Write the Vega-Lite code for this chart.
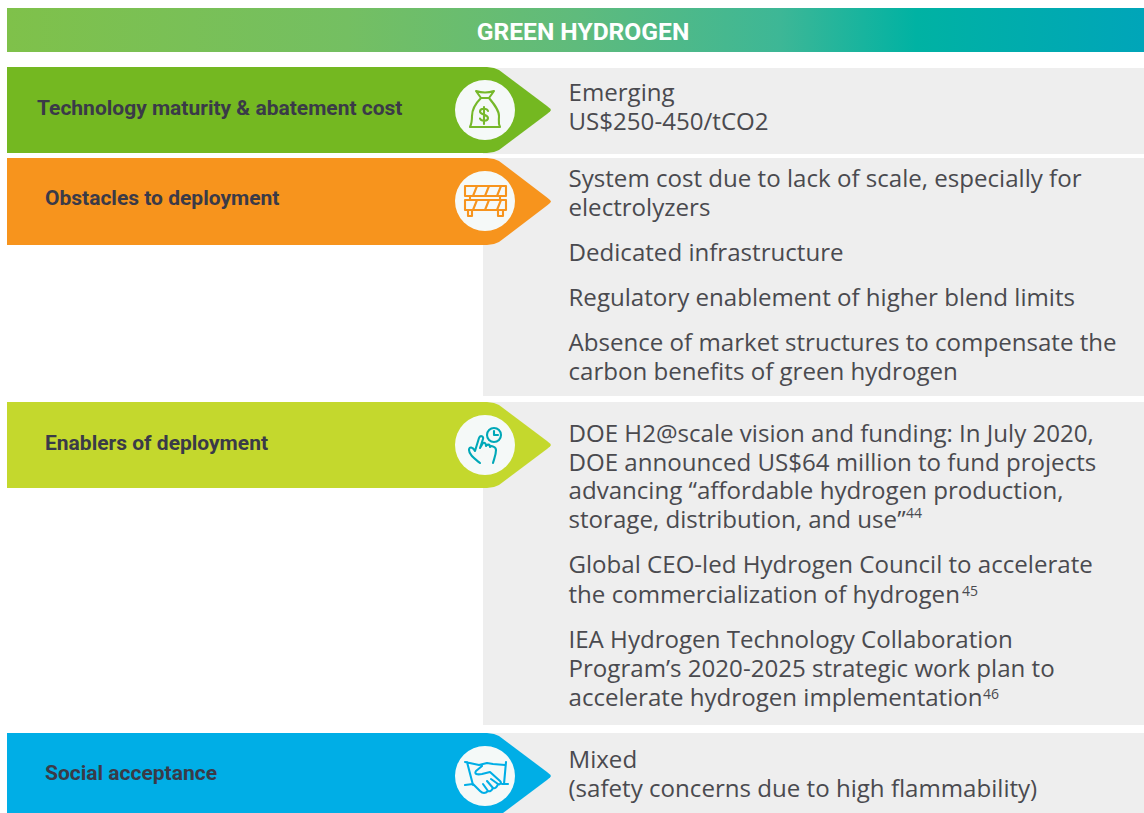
{"$schema":"https://vega.github.io/schema/vega-lite/v6.json","width":1144,"height":813,"padding":0,"autosize":{"type":"fit","contains":"padding"},"background":"white","config":{"view":{"stroke":null}},
"datasets":{
"header":[{"name":"GREEN HYDROGEN","x0":7,"x1":1144,"y0":8,"y1":52,"xm":583,"ym":39.5}],
"panels":[{"section":"Technology maturity & abatement cost","x0":483,"x1":1144,"y0":68,"y1":154},{"section":"Obstacles to deployment","x0":483,"x1":1144,"y0":158,"y1":396},{"section":"Enablers of deployment","x0":483,"x1":1144,"y0":402,"y1":725},{"section":"Social acceptance","x0":483,"x1":1144,"y0":733,"y1":813}],
"arrows":[
{"section":"Technology maturity & abatement cost","x":7,"top":67,"bottom":153},{"section":"Technology maturity & abatement cost","x":487,"top":67,"bottom":153},{"section":"Technology maturity & abatement cost","x":494,"top":68,"bottom":152},{"section":"Technology maturity & abatement cost","x":499,"top":70,"bottom":150},{"section":"Technology maturity & abatement cost","x":503,"top":73,"bottom":147},{"section":"Technology maturity & abatement cost","x":547,"top":106,"bottom":114},{"section":"Technology maturity & abatement cost","x":550,"top":108.5,"bottom":111.5},{"section":"Technology maturity & abatement cost","x":551,"top":110,"bottom":110},
{"section":"Obstacles to deployment","x":7,"top":158,"bottom":245},{"section":"Obstacles to deployment","x":487,"top":158,"bottom":245},{"section":"Obstacles to deployment","x":494,"top":159,"bottom":244},{"section":"Obstacles to deployment","x":499,"top":161,"bottom":242},{"section":"Obstacles to deployment","x":503,"top":164,"bottom":239},{"section":"Obstacles to deployment","x":547,"top":197.5,"bottom":205.5},{"section":"Obstacles to deployment","x":550,"top":200,"bottom":203},{"section":"Obstacles to deployment","x":551,"top":201.5,"bottom":201.5},
{"section":"Enablers of deployment","x":7,"top":402,"bottom":488},{"section":"Enablers of deployment","x":487,"top":402,"bottom":488},{"section":"Enablers of deployment","x":494,"top":403,"bottom":487},{"section":"Enablers of deployment","x":499,"top":405,"bottom":485},{"section":"Enablers of deployment","x":503,"top":408,"bottom":482},{"section":"Enablers of deployment","x":547,"top":441,"bottom":449},{"section":"Enablers of deployment","x":550,"top":443.5,"bottom":446.5},{"section":"Enablers of deployment","x":551,"top":445,"bottom":445},
{"section":"Social acceptance","x":7,"top":733,"bottom":819},{"section":"Social acceptance","x":487,"top":733,"bottom":819},{"section":"Social acceptance","x":494,"top":734,"bottom":818},{"section":"Social acceptance","x":499,"top":736,"bottom":816},{"section":"Social acceptance","x":503,"top":739,"bottom":813},{"section":"Social acceptance","x":547,"top":772,"bottom":780},{"section":"Social acceptance","x":550,"top":774.5,"bottom":777.5},{"section":"Social acceptance","x":551,"top":776,"bottom":776}],
"badges":[{"section":"Technology maturity & abatement cost","icon":"money","x":485,"y":110},{"section":"Obstacles to deployment","icon":"barrier","x":485,"y":201},{"section":"Enablers of deployment","icon":"hand","x":485,"y":445},{"section":"Social acceptance","icon":"shake","x":485,"y":776}],
"titles":[{"text":"Technology maturity & abatement cost","x":37,"y":109},{"text":"Obstacles to deployment","x":45,"y":199},{"text":"Enablers of deployment","x":45,"y":444},{"text":"Social acceptance","x":45,"y":774}],
"lines":[{"text":"Emerging","x":568.5,"y":101},{"text":"US$250-450/tCO2","x":568.5,"y":130},{"text":"System cost due to lack of scale, especially for","x":568.5,"y":186.5},{"text":"electrolyzers","x":568.5,"y":215.5},{"text":"Dedicated infrastructure","x":568.5,"y":261},{"text":"Regulatory enablement of higher blend limits","x":568.5,"y":306},{"text":"Absence of market structures to compensate the","x":568.5,"y":351},{"text":"carbon benefits of green hydrogen","x":568.5,"y":380},{"text":"DOE H2@scale vision and funding: In July 2020,","x":568.5,"y":442},{"text":"DOE announced US$64 million to fund projects","x":568.5,"y":471},{"text":"advancing “affordable hydrogen production,","x":568.5,"y":499},{"text":"storage, distribution, and use”","x":568.5,"y":528},{"text":"Global CEO-led Hydrogen Council to accelerate","x":568.5,"y":573},{"text":"the commercialization of hydrogen","x":568.5,"y":603},{"text":"IEA Hydrogen Technology Collaboration","x":568.5,"y":648},{"text":"Program’s 2020-2025 strategic work plan to","x":568.5,"y":677},{"text":"accelerate hydrogen implementation","x":568.5,"y":706},{"text":"Mixed","x":568.5,"y":768},{"text":"(safety concerns due to high flammability)","x":568.5,"y":797}],
"notes":[{"text":"44","x":906,"y":518},{"text":"45","x":962,"y":596},{"text":"46","x":983,"y":699}]},
"layer":[
{"data":{"name":"panels"},"mark":{"type":"rect","fill":"#eeeeee"},"encoding":{"x":{"field":"x0","type":"quantitative","scale":{"domain":[0,1144],"nice":false,"zero":false},"axis":null},"x2":{"field":"x1"},"y":{"field":"y0","type":"quantitative","scale":{"domain":[813,0],"nice":false,"zero":false},"axis":null},"y2":{"field":"y1"}}},
{"data":{"name":"header"},"mark":{"type":"rect","fill":{"gradient":"linear","x1":0,"y1":0,"x2":1,"y2":0,"stops":[{"offset":0,"color":"#7fc14a"},{"offset":0.3,"color":"#74bf62"},{"offset":0.5,"color":"#5fbb7c"},{"offset":0.68,"color":"#3db796"},{"offset":0.8,"color":"#00b2a3"},{"offset":1,"color":"#00a5b9"}]}},"encoding":{"x":{"field":"x0","type":"quantitative"},"x2":{"field":"x1"},"y":{"field":"y0","type":"quantitative"},"y2":{"field":"y1"}}},
{"data":{"name":"header"},"mark":{"type":"text","font":"Roboto","fontWeight":"bold","fontSize":24.6,"color":"#ffffff","align":"center","baseline":"alphabetic"},"encoding":{"x":{"field":"xm","type":"quantitative"},"y":{"field":"ym","type":"quantitative"},"text":{"field":"name"}}},
{"data":{"name":"arrows"},"mark":{"type":"area","clip":true,"interpolate":"linear"},"encoding":{"x":{"field":"x","type":"quantitative"},"y":{"field":"top","type":"quantitative"},"y2":{"field":"bottom"},"color":{"field":"section","type":"nominal","legend":null,"scale":{"domain":["Technology maturity & abatement cost","Obstacles to deployment","Enablers of deployment","Social acceptance"],"range":["#74b821","#f7941d","#c4d82d","#00aee6"]}}}},
{"data":{"name":"badges"},"mark":{"type":"point","shape":"circle","filled":true,"opacity":1,"size":3600,"color":"#f5f9f8"},"encoding":{"x":{"field":"x","type":"quantitative"},"y":{"field":"y","type":"quantitative"}}},
{"data":{"name":"badges"},"mark":{"type":"point","filled":false,"opacity":1,"size":4,"strokeWidth":2.1,"strokeJoin":"round","strokeCap":"round"},"encoding":{"x":{"field":"x","type":"quantitative"},"y":{"field":"y","type":"quantitative"},"stroke":{"field":"icon","type":"nominal","legend":null,"scale":{"domain":["money","barrier","hand","shake"],"range":["#76b82a","#f7941d","#00a8b8","#00aee6"]}},"shape":{"field":"icon","type":"nominal","legend":null,"scale":{"domain":["money","barrier","hand","shake"],"range":[
"M-9,-19 Q0,-16 9,-19 L4,-12 L-4,-12 Z M-4,-12 C-10,-6 -13,0 -13,6 C-13,11 -13,13 -15,17 L15,17 C13,13 14,11 14,6 C14,0 9,-6 4,-12 M3,1 C2,-2 -5,-2 -5,1.5 C-5,5 3,4 3,8 C3,11.5 -4,11.5 -5,8.5 M-1,-3 L-1,14",
"M-20,-15 H21 V-5 H-20 Z M-20,-1 H21 V9 H-20 Z M-17,9 V15 H-13 V9 M13,9 V15 H18 V9 M-15,-5 V-1 M15,-5 V-1 M-12,-5 L-8,-15 M0,-5 L4,-15 M12,-5 L16,-15 M-12,9 L-8,-1 M0,9 L4,-1 M12,9 L16,-1",
"M2,-10 A7,7 0 1 0 16,-10 A7,7 0 1 0 2,-10 M9,-14 V-10 H13 M-5,18 C-10,14 -16,10 -16,5 C-16,1 -12,2 -10,6 L-6,-7 C-5,-10 -1,-9 -2,-6 L-5,3 L-2,-2 C0,-3 1,-1 1,1 C2,-1 5,-1 5,2 C6,0 11,2 11,5 C11,10 9,14 8,18",
"M-20,-14 L-6,-11 L2,-13 L8,-12 L20,-11 M21,-14 L19,8 M23,8 L17,8 M-18,-14 L-12,9 M-20,9 L-12,8 L-5,15 C-2,18 1,17 3,15 C5,16 7,14 8,12 C10,13 12,11 13,8 C15,9 17,7 15,5 L5,-4 L-3,-2 C-8,-1 -11,-2 -9,-5 L-3,-10 M-2,8 L3,15 M2,5 L8,12 M6,3 L13,8"]}}}},
{"data":{"name":"titles"},"mark":{"type":"text","font":"Roboto","fontWeight":"bold","fontSize":21,"color":"#3a3a48","align":"left","baseline":"middle"},"encoding":{"x":{"field":"x","type":"quantitative"},"y":{"field":"y","type":"quantitative"},"text":{"field":"text"}}},
{"data":{"name":"lines"},"mark":{"type":"text","font":"Open Sans","fontSize":24.1,"color":"#4a4a4f","align":"left","baseline":"alphabetic"},"encoding":{"x":{"field":"x","type":"quantitative"},"y":{"field":"y","type":"quantitative"},"text":{"field":"text"}}},
{"data":{"name":"notes"},"mark":{"type":"text","font":"Open Sans","fontSize":14,"color":"#4a4a4f","align":"left","baseline":"alphabetic"},"encoding":{"x":{"field":"x","type":"quantitative"},"y":{"field":"y","type":"quantitative"},"text":{"field":"text"}}}
]}
